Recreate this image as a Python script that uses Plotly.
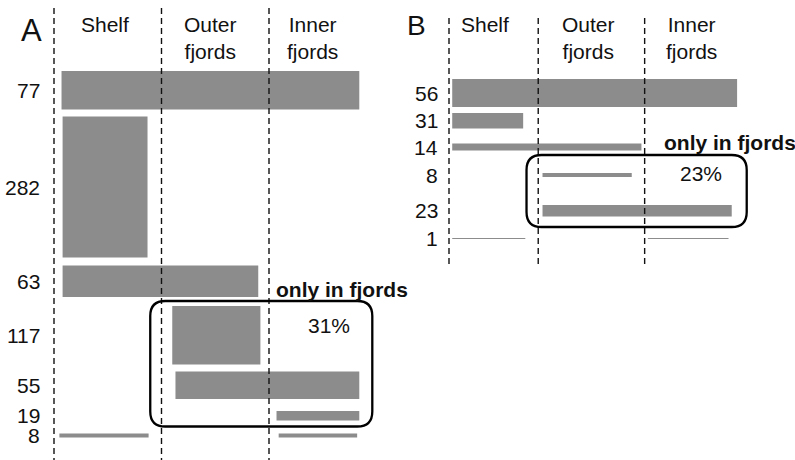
import plotly.graph_objects as go

# ---------------- data ----------------
zone_names = ["Shelf", "Outer<br>fjords", "Inner<br>fjords"]

# Panel A: number of taxa per distribution pattern, and the habitat span (zone units)
A_counts = [77, 282, 63, 117, 55, 19, 8]
A_seg_row = [0, 1, 2, 3, 4, 5, 6, 6]
A_seg_start = [0.07, 0.08, 0.08, 1.10, 1.13, 2.07, 0.05, 2.09]
A_seg_end = [2.84, 0.87, 1.90, 1.92, 2.84, 2.84, 0.88, 2.82]
A_zone_bounds = [0.0, 1.0, 2.0]
A_fjord_rows = [3, 4, 5]
A_fjord_pct = "31%"

# Panel B
B_counts = [56, 31, 14, 8, 23, 1]
B_seg_row = [0, 1, 2, 3, 4, 5, 5]
B_seg_start = [0.03, 0.03, 0.03, 0.87, 0.87, 0.03, 1.85]
B_seg_end = [2.68, 0.69, 1.79, 1.70, 2.63, 0.71, 2.60]
B_zone_bounds = [0.0, 0.83, 1.82]
B_fjord_rows = [3, 4]
B_fjord_pct = "23%"

# ---------------- layout constants ----------------
W, H = 795, 460
PX_PER_COUNT = 0.5          # bar thickness scale
PX_PER_ZONE = 107.5         # horizontal scale
SPLIT = 400                 # pixel where panel B begins
A_ORIGIN, B_ORIGIN = 54, 449
A_TOP, B_TOP = 71, 79       # pixel of first bar top
A_GAPS = [7, 8, 9, 7, 12, 13]
B_GAPS = [6, 15, 22.5, 28, 22]
BAR_COLOR = "#8c8c8c"
FONT = "Liberation Sans, Arial, Helvetica, sans-serif"
FS = 21


def row_centers(counts, top_px, gaps_px):
    centers = []
    y = top_px / PX_PER_COUNT
    for i, c in enumerate(counts):
        centers.append(y + c / 2)
        y += c
        if i < len(gaps_px):
            y += gaps_px[i] / PX_PER_COUNT
    return centers


def px2u(px, origin):
    return (px - origin) / PX_PER_ZONE


A_rows = row_centers(A_counts, A_TOP, A_GAPS)
B_rows = row_centers(B_counts, B_TOP, B_GAPS)

fig = go.Figure()

# dashed zone boundaries
for xa, bounds, y0, y1 in [("x", A_zone_bounds, 8, 470), ("x2", B_zone_bounds, 18, 265)]:
    for b in bounds:
        fig.add_trace(go.Scatter(
            x=[b, b], y=[y0 / PX_PER_COUNT, y1 / PX_PER_COUNT], mode="lines",
            line=dict(color="#111", width=1.4, dash="6px,4px"),
            xaxis=xa, yaxis="y", hoverinfo="skip", showlegend=False))

# bars
for xa, counts, rows, seg_row, s0, s1 in [
        ("x", A_counts, A_rows, A_seg_row, A_seg_start, A_seg_end),
        ("x2", B_counts, B_rows, B_seg_row, B_seg_start, B_seg_end)]:
    fig.add_trace(go.Bar(
        orientation="h",
        y=[rows[r] for r in seg_row],
        x=[e - s for s, e in zip(s0, s1)],
        base=s0,
        width=[counts[r] for r in seg_row],
        marker=dict(color=BAR_COLOR, line=dict(width=0)),
        xaxis=xa, yaxis="y", hoverinfo="skip", showlegend=False))

annotations = []
shapes = []


def rounded_box(xref, x0, x1, y0, y1, r_px):
    rx = r_px / PX_PER_ZONE
    ry = r_px / PX_PER_COUNT
    p = (f"M {x0+rx},{y0} L {x1-rx},{y0} Q {x1},{y0} {x1},{y0+ry} "
         f"L {x1},{y1-ry} Q {x1},{y1} {x1-rx},{y1} L {x0+rx},{y1} "
         f"Q {x0},{y1} {x0},{y1-ry} L {x0},{y0+ry} Q {x0},{y0} {x0+rx},{y0} Z")
    return dict(type="path", path=p, xref=xref, yref="y",
                line=dict(color="black", width=2.3), fillcolor="rgba(0,0,0,0)")


panels = [
    dict(xa="x", origin=A_ORIGIN, counts=A_counts, rows=A_rows, seg_row=A_seg_row,
         s0=A_seg_start, s1=A_seg_end, fj=A_fjord_rows, pct=A_fjord_pct,
         letter="A", letter_xy=(31, 30), letter_fs=31,
         head_px=[105, 210, 312], label_px=42, pad=(22, 13, 5, 6), radius=15,
         only_xy=(274, 289), pct_xy=(329, 325)),
    dict(xa="x2", origin=B_ORIGIN, counts=B_counts, rows=B_rows, seg_row=B_seg_row,
         s0=B_seg_start, s1=B_seg_end, fj=B_fjord_rows, pct=B_fjord_pct,
         letter="B", letter_xy=(416, 25), letter_fs=28,
         head_px=[485, 588, 691], label_px=440, pad=(16, 15, 18, 10.5), radius=15,
         only_xy=(662, 142), pct_xy=(701, 173)),
]

for p in panels:
    xa, o = p["xa"], p["origin"]
    txt = dict(family=FONT, size=FS, color="#111")
    # panel letter
    annotations.append(dict(text=p["letter"], x=px2u(p["letter_xy"][0], o),
                            y=p["letter_xy"][1] / PX_PER_COUNT, xref=xa, yref="y",
                            showarrow=False, font=dict(family=FONT, size=p["letter_fs"], color="#111")))
    # zone headers
    for name, hx in zip(zone_names, p["head_px"]):
        annotations.append(dict(text=name, x=px2u(hx, o), y=11 / PX_PER_COUNT,
                                xref=xa, yref="y", yanchor="top", showarrow=False,
                                font=txt))
    # row labels
    for c, yc in zip(p["counts"], p["rows"]):
        annotations.append(dict(text=str(c), x=px2u(p["label_px"], o), y=yc,
                                xref=xa, yref="y", xanchor="right", showarrow=False,
                                font=txt))
    # fjord-only box
    segs = [i for i, r in enumerate(p["seg_row"]) if r in p["fj"]]
    bx0 = min(p["s0"][i] for i in segs)
    bx1 = max(p["s1"][i] for i in segs)
    r0, r1 = min(p["fj"]), max(p["fj"])
    by0 = p["rows"][r0] - p["counts"][r0] / 2
    by1 = p["rows"][r1] + p["counts"][r1] / 2
    pl, pr, pt, pb = p["pad"]
    shapes.append(rounded_box(xa, bx0 - pl / PX_PER_ZONE, bx1 + pr / PX_PER_ZONE,
                              by0 - pt / PX_PER_COUNT, by1 + pb / PX_PER_COUNT,
                              p["radius"]))
    annotations.append(dict(text="<b>only in fjords</b>", x=px2u(p["only_xy"][0], o),
                            y=p["only_xy"][1] / PX_PER_COUNT, xref=xa, yref="y",
                            xanchor="left", showarrow=False, font=txt))
    annotations.append(dict(text=p["pct"], x=px2u(p["pct_xy"][0], o),
                            y=p["pct_xy"][1] / PX_PER_COUNT, xref=xa, yref="y",
                            showarrow=False, font=txt))

hidden = dict(visible=False, showgrid=False, zeroline=False, fixedrange=True)
fig.update_layout(
    width=W, height=H, margin=dict(l=0, r=0, t=0, b=0),
    paper_bgcolor="white", plot_bgcolor="white",
    barmode="overlay", showlegend=False,
    xaxis=dict(domain=[0, SPLIT / W], range=[px2u(0, A_ORIGIN), px2u(SPLIT, A_ORIGIN)], **hidden),
    xaxis2=dict(domain=[SPLIT / W, 1], range=[px2u(SPLIT, B_ORIGIN), px2u(W, B_ORIGIN)],
                anchor="y", **hidden),
    yaxis=dict(domain=[0, 1], range=[H / PX_PER_COUNT, 0], **hidden),
    annotations=annotations, shapes=shapes,
)

fig.write_html("out.html", config={"displayModeBar": False},
               post_script="document.body.style.margin='0';document.body.style.overflow='hidden';")
